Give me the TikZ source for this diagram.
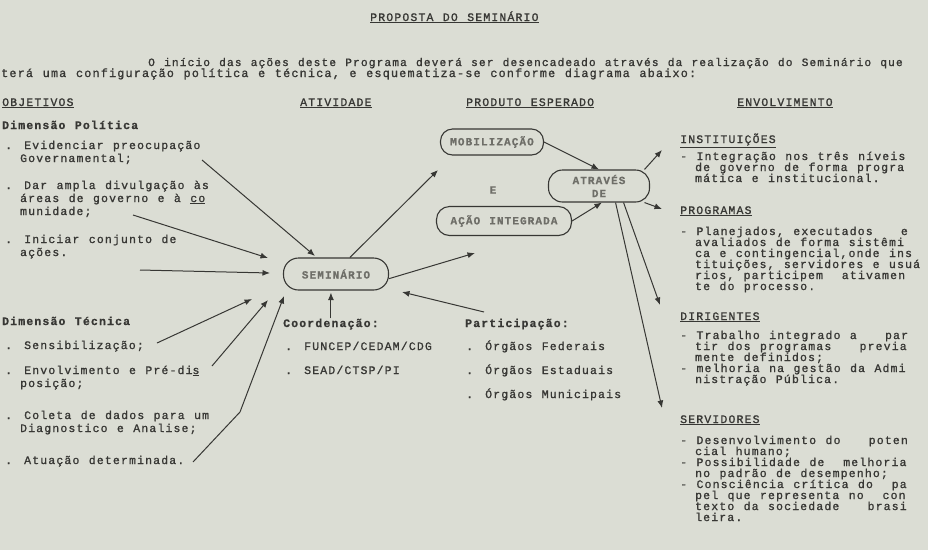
\documentclass[tikz,border=0pt]{standalone}
\usepackage{fontspec}
\setmainfont{Liberation Mono}[LetterSpace=10, WordSpace=1.17,
  UprightFeatures={FakeBold=1.1}, BoldFeatures={FakeBold=0.6}]
\usetikzlibrary{arrows.meta}

\definecolor{paper}{RGB}{219,221,212}
\definecolor{ink}{RGB}{55,55,52}
\definecolor{pale}{RGB}{110,110,104}
\newcommand\ind{\hphantom{xx}}
\newcommand\typ{\fontsize{11.5}{13}\selectfont\lineskiplimit=-20pt\relax}
\newcommand\typr{\fontsize{11.5}{11}\selectfont\lineskiplimit=-20pt\relax}

\begin{document}
\begin{tikzpicture}[x=1pt, y=-1pt,
  txt/.style={anchor=base west, inner sep=0pt, align=left, text=ink, font=\typ},
  rtxt/.style={txt, font=\typr},
  bold/.style={txt, font=\typ\bfseries},
  pill/.style={draw=ink, line width=1.1pt, inner sep=0pt, align=center,
               text=pale, font=\fontsize{11}{13}\selectfont\bfseries},
  arr/.style={-{Latex[length=7.5pt,width=6pt]}, line width=1pt, draw=ink}
]
\fill[paper] (0,0) rectangle (928,550);
\useasboundingbox (0,0) rectangle (928,550);

% title and opening lines
\node[txt] (title) at (370,21) {\underline{PROPOSTA DO SEMINÁRIO}};
\node[txt, font=\fontsize{11.2}{11}\selectfont] (intro1) at (148,66)
  {O início das ações deste Programa deverá ser desencadeado através da realização do Seminário que};
\node[txt, font=\fontsize{11.8}{11}\selectfont] (intro2) at (1,77)
  {terá uma configuração política e técnica, e esquematiza-se conforme diagrama abaixo:};

% column heads
\node[txt] (hobj) at (2,106) {\underline{OBJETIVOS}};
\node[txt] (hati) at (300,106) {\underline{ATIVIDADE}};
\node[txt] (hpro) at (466,106) {\underline{PRODUTO ESPERADO}};
\node[txt] (henv) at (737,106) {\underline{ENVOLVIMENTO}};

% objetivos (base = last line)
\node[bold] (dpol) at (2,129) {Dimensão Política};
\node[txt] (obj1) at (5,162) {. Evidenciar preocupação\\\ind Governamental;};
\node[txt] (obj2) at (5,215) {. Dar ampla divulgação às\\\ind áreas de governo e à \underline{co}\\\ind munidade;};
\node[txt] (obj3) at (5,256) {. Iniciar conjunto de\\\ind ações.};
\node[bold] (dtec) at (2,325) {Dimensão Técnica};
\node[txt] (obj4) at (5,349) {. Sensibilização;};
\node[txt] (obj5) at (5,387) {. Envolvimento e Pré-di\underline{s}\\\ind posição;};
\node[txt] (obj6) at (5,432) {. Coleta de dados para um\\\ind Diagnostico e Analise;};
\node[txt] (obj7) at (5,464) {. Atuação determinada.};

% atividade
\node[pill, minimum width=105pt, minimum height=32pt, rounded corners=15pt] (sem) at (336,274) {SEMINÁRIO};
\node[bold] (coord) at (283,327) {Coordenação:};
\node[txt, font=\fontsize{11.5}{24}\selectfont] (corgs) at (285,374) {. FUNCEP/CEDAM/CDG\\. SEAD/CTSP/PI};

% produto esperado
\node[pill, minimum width=103pt, minimum height=26pt, rounded corners=12pt] (mob) at (492,142) {MOBILIZAÇÃO};
\node[txt, anchor=center, text=pale, font=\fontsize{11}{13}\selectfont\bfseries] (conj) at (493,190) {E};
\node[pill, minimum width=135pt, minimum height=29pt, rounded corners=13pt] (acao) at (504,221) {AÇÃO INTEGRADA};
\node[pill, minimum width=101pt, minimum height=32pt, rounded corners=14pt] (atr) at (599,186) {ATRAVÉS\\DE};
\node[bold] (part) at (465,327) {Participação:};
\node[txt, font=\fontsize{11.5}{24}\selectfont] (porgs) at (466,398) {. Órgãos Federais\\. Órgãos Estaduais\\. Órgãos Municipais};

% envolvimento
\node[txt] (hins) at (680,143) {\underline{INSTITUIÇÕES}};
\node[rtxt] (tins) at (680,182) {- Integração nos três níveis\\\ind de governo de forma progra\\\ind mática e institucional.};
\node[txt] (hpgm) at (680,214) {\underline{PROGRAMAS}};
\node[rtxt] (tpgm) at (680,290) {- Planejados, executados~~~e\\\ind avaliados de forma sistêmi\\\ind ca e contingencial,onde ins\\\ind tituições, servidores e usuá\\\ind rios, participem~~ativamen\\\ind te do processo.};
\node[txt] (hdir) at (680,320) {\underline{DIRIGENTES}};
\node[rtxt] (tdir) at (680,383) {- Trabalho integrado a~~~par\\\ind tir dos programas~~~previa\\\ind mente definidos;\\- melhoria na gestão da Admi\\\ind nistração Pública.};
\node[txt] (hser) at (680,423) {\underline{SERVIDORES}};
\node[rtxt] (tser) at (680,521) {- Desenvolvimento do~~~poten\\\ind cial humano;\\- Possibilidade de~~melhoria\\\ind no padrão de desempenho;\\- Consciência crítica do~~pa\\\ind pel que representa no~~con\\\ind texto da sociedade~~~brasi\\\ind leira.};

% free ends of the connectors
\coordinate (gov) at (202,160);   \coordinate (gov-in) at (315,256);
\coordinate (mun) at (133,215);   \coordinate (mun-in) at (268,258);
\coordinate (aco) at (140,270);   \coordinate (aco-in) at (270,273);
\coordinate (sen) at (157,343);   \coordinate (sen-in) at (252,299);
\coordinate (env) at (212,366);   \coordinate (env-in) at (268,300);
\coordinate (atu) at (193,462);   \coordinate (atu-bend) at (240,412);
\coordinate (atu-in) at (284,296);
\coordinate (par) at (484,312);   \coordinate (par-in) at (402,292);
\coordinate (mob-in) at (438,170);
\coordinate (acao-in) at (475,253);
\coordinate (ins-in) at (662,150);
\coordinate (pgm-in) at (662,209);
\coordinate (dir-in) at (660,305);
\coordinate (ser-in) at (662,408);

% into the seminar
\draw[arr] (gov) -- (gov-in);
\draw[arr] (mun) -- (mun-in);
\draw[arr] (aco) -- (aco-in);
\draw[arr] (sen) -- (sen-in);
\draw[arr] (env) -- (env-in);
\draw[arr] (atu) -- (atu-bend) -- (atu-in);
\draw[arr, shorten >=2pt] (coord.north) -- (coord.north |- sem.south);
\draw[arr] (par) -- (par-in);
% out of the seminar
\draw[arr] (sem.50) -- (mob-in);
\draw[arr] (sem.-5) -- (acao-in);
\draw[arr] (mob.east) -- (atr.north);
\draw[arr] (acao.east) -- (atr.-80);
\draw[arr] (atr.20) -- (ins-in);
\draw[arr] (atr.-20) -- (pgm-in);
\draw[arr] (atr.-34) -- (dir-in);
\draw[arr] (atr.-45) -- (ser-in);
\end{tikzpicture}
\end{document}
